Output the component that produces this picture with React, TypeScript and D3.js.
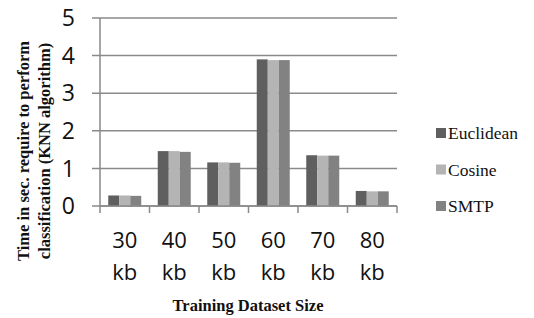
import React from "react";
import * as d3 from "d3";

const categories = ["30 kb", "40 kb", "50 kb", "60 kb", "70 kb", "80 kb"];
const seriesNames = ["Euclidean", "Cosine", "SMTP"];
const euclidean = [0.28, 1.46, 1.16, 3.9, 1.35, 0.4];
const cosine = [0.28, 1.46, 1.16, 3.88, 1.34, 0.39];
const smtp = [0.27, 1.44, 1.15, 3.88, 1.34, 0.39];
const yTicks = [0, 1, 2, 3, 4, 5];
const colors = ["#5f5f5f", "#b4b4b4", "#828282"];

const W = 534;
const H = 318;
const left = 100;
const right = 397;
const top = 18;
const bottom = 206;
const gridColor = "#8a8a8a";

export default function App() {
  const series = [euclidean, cosine, smtp];
  const x = d3.scaleBand<string>().domain(categories).range([left, right]).paddingInner(0).paddingOuter(0);
  // excel style: gap width 150% => 0.75 bar on each side
  const inner = d3.scaleBand<string>().domain(seriesNames).range([0, x.bandwidth()]).paddingInner(0).paddingOuter(0.75);
  const y = d3.scaleLinear().domain([0, 5]).range([bottom, top]);

  return (
    <svg width={W} height={H} style={{ position: "absolute", left: 0, top: 0 }}>
      <rect width={W} height={H} fill="#fff" />
      {/* gridlines + y ticks */}
      {yTicks.map((t) => (
        <g key={t}>
          <line x1={left - 8} x2={right} y1={y(t)} y2={y(t)} stroke={gridColor} strokeWidth={1.5} />
          <text x={75} y={y(t)} dy="0.36em" textAnchor="end" fontFamily="Open Sans" fontSize={23} fill="#111">
            {t}
          </text>
        </g>
      ))}
      {/* bars */}
      {categories.map((c, i) => (
        <g key={c} transform={`translate(${x(c)},0)`}>
          {series.map((s, j) => (
            <rect
              key={j}
              x={inner(seriesNames[j])}
              width={inner.bandwidth()}
              y={y(s[i])}
              height={y(0) - y(s[i])}
              fill={colors[j]}
            />
          ))}
        </g>
      ))}
      {/* axes */}
      <line x1={left} x2={left} y1={top} y2={bottom} stroke={gridColor} strokeWidth={1.5} />
      <line x1={left} x2={right} y1={bottom} y2={bottom} stroke={gridColor} strokeWidth={1.5} />
      {[...categories.map((c) => x(c) as number), right].map((px, i) => (
        <line key={i} x1={px} x2={px} y1={bottom} y2={bottom + 7} stroke={gridColor} strokeWidth={1.5} />
      ))}
      {/* category labels */}
      {categories.map((c) => {
        const [num, unit] = c.split(" ");
        const cx = (x(c) as number) + x.bandwidth() / 2;
        return (
          <text key={c} x={cx} textAnchor="middle" fontFamily="Open Sans" fontSize={22} fill="#111">
            <tspan x={cx} y={248}>{num}</tspan>
            <tspan x={cx} y={280}>{unit}</tspan>
          </text>
        );
      })}
      {/* axis titles */}
      <text
        transform="translate(29,151) rotate(-90)"
        textAnchor="middle"
        fontFamily="Liberation Serif"
        fontWeight="bold"
        fontSize={16.5}
        fill="#111"
      >
        <tspan x={0} y={0}>Time in sec. require to perform</tspan>
        <tspan x={0} y={21}>classification (KNN algorithm)</tspan>
      </text>
      <text x={248} y={311} textAnchor="middle" fontFamily="Liberation Serif" fontWeight="bold" fontSize={16.5} fill="#111">
        Training Dataset Size
      </text>
      {/* legend */}
      {seriesNames.map((n, j) => (
        <g key={n} transform={`translate(436,${133 + j * 36.5})`}>
          <rect x={0} y={-5} width={10} height={10} fill={colors[j]} />
          <text x={12} y={0} dy="0.35em" fontFamily="Liberation Serif" fontSize={17.5} fill="#111">
            {n}
          </text>
        </g>
      ))}
    </svg>
  );
}
